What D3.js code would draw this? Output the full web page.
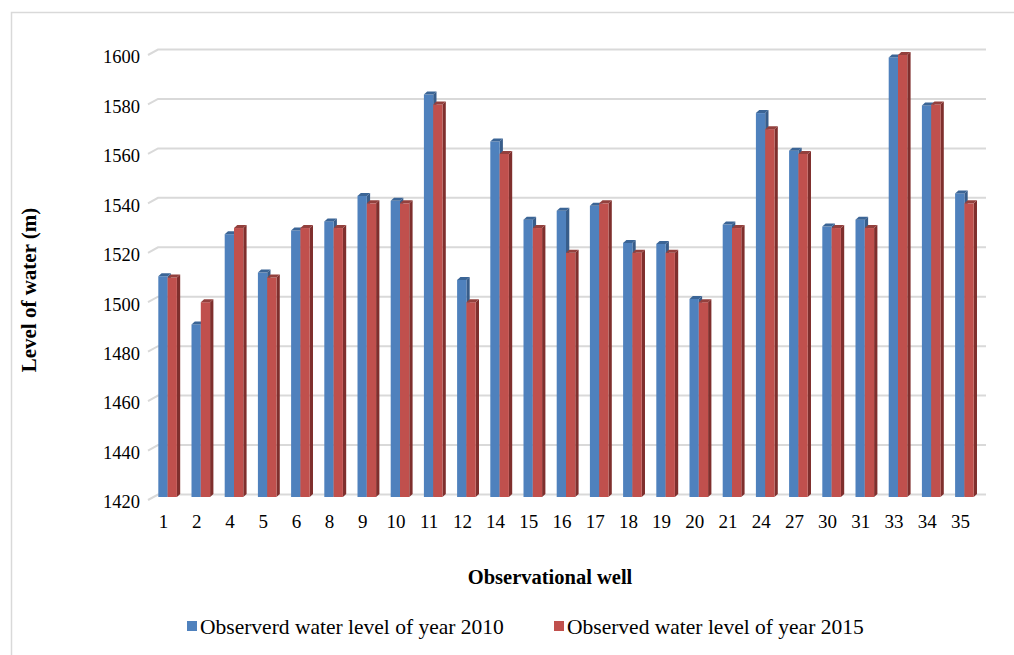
<!DOCTYPE html>
<html>
<head>
<meta charset="utf-8">
<script src="https://cdn.jsdelivr.net/npm/d3@7"></script>
<style>
  html, body { margin: 0; padding: 0; background: #fff; }
  svg { display: block; }
  text { font-family: "Liberation Serif", "Times New Roman", serif; fill: #000; }
</style>
</head>
<body>
<svg id="chart" width="1014" height="655"></svg>
<script>
const wells = ["1","2","4","5","6","8","9","10","11","12","14","15","16","17","18","19","20","21","24","27","30","31","33","34","35"];
const level2010 = [1510.5,1491,1527.5,1512,1529,1532.7,1543,1541,1584,1509,1565,1533.4,1537,1539,1524,1523.6,1501.3,1531.4,1576.5,1561.3,1530.6,1533.4,1599,1579.6,1544];
const level2015 = [1510,1500,1530,1510,1530,1530,1540,1540,1580,1500,1560,1530,1520,1540,1520,1520,1500,1530,1570,1560,1530,1530,1600,1580,1540];
const yTicks = [1420,1440,1460,1480,1500,1520,1540,1560,1580,1600];
const seriesNames = ["Observerd water level of year 2010", "Observed water level of year 2015"];

const colors = {
  front: ["#4f81bd", "#c0504d"],
  side:  ["#385d8a", "#7f2f2d"],
  top:   ["#3b6596", "#93403d"]
};

const svg = d3.select("#chart");
const W = 1014, H = 655;

// outer border
svg.append("rect").attr("x", 11.5).attr("y", 12.5).attr("width", W + 10).attr("height", H + 10)
  .attr("fill", "none").attr("stroke", "#d9d9d9").attr("stroke-width", 1.5);

const y = d3.scaleLinear().domain([1420, 1600]).range([500, 55]);
const x = d3.scaleBand().domain(wells).range([151, 981]).paddingInner(0.44).paddingOuter(0.22);
const xs = d3.scaleBand().domain([0, 1]).range([0, x.bandwidth()]);

const wallDx = 10, wallDy = -5.5, wallRight = 986, wallLeft = 148;

// gridlines with 3D wall offset
const grid = svg.append("g");
grid.selectAll("path").data(yTicks).join("path")
  .attr("d", v => `M${wallLeft},${y(v)} L${wallLeft + wallDx},${y(v) + wallDy} L${wallRight},${y(v) + wallDy}`)
  .attr("fill", "none").attr("stroke", "#d9d9d9").attr("stroke-width", 2);

// bars
const bd = 3.3, bdy = -3;
const bottom = y(1420) - 3;
const series = [level2010, level2015];
series.forEach((vals, si) => {
  const g = svg.append("g");
  const data = wells.map((w, i) => ({ w, v: vals[i] }));
  g.selectAll("path.side").data(data).join("path").attr("class", "side")
    .attr("d", d => {
      const x1 = x(d.w) + xs(si) + xs.bandwidth();
      const t = y(d.v);
      return `M${x1},${t} L${x1 + bd},${t + bdy} L${x1 + bd},${bottom + bdy} L${x1},${bottom} Z`;
    })
    .attr("fill", colors.side[si]);
  g.selectAll("rect").data(data).join("rect")
    .attr("x", d => x(d.w) + xs(si))
    .attr("y", d => y(d.v))
    .attr("width", xs.bandwidth())
    .attr("height", d => bottom - y(d.v))
    .attr("fill", colors.front[si]);
  g.selectAll("path.top").data(data).join("path").attr("class", "top")
    .attr("d", d => {
      const x0 = x(d.w) + xs(si), x1 = x0 + xs.bandwidth();
      const t = y(d.v);
      return `M${x0},${t} L${x0 + bd},${t + bdy} L${x1 + bd},${t + bdy} L${x1},${t} Z`;
    })
    .attr("fill", colors.top[si]);
});

// y axis labels
const yAxis = svg.append("g").attr("transform", `translate(${wallLeft},0)`)
  .call(d3.axisLeft(y).tickValues(yTicks).tickSize(0).tickPadding(8).tickFormat(d3.format("d")));
yAxis.select(".domain").remove();
yAxis.selectAll("text").attr("font-size", 18.5).attr("font-family", "Liberation Serif").attr("dy", "0.42em").attr("fill", "#000");

// x axis labels
const xLabel = x.copy().range([147, 977]);
const xAxis = svg.append("g").attr("transform", `translate(0,${y(1420) + 14})`)
  .call(d3.axisBottom(xLabel).tickSize(0).tickPadding(0));
xAxis.select(".domain").remove();
xAxis.selectAll("text").attr("font-size", 19).attr("font-family", "Liberation Serif").attr("dy", "0.71em").attr("fill", "#000");

// axis titles
svg.append("text").attr("x", 550).attr("y", 584).attr("text-anchor", "middle")
  .attr("font-size", 20.5).attr("font-weight", "bold").text("Observational well");
svg.append("text").attr("transform", "translate(36,290) rotate(-90)").attr("text-anchor", "middle")
  .attr("font-size", 21).attr("font-weight", "bold").text("Level of water (m)");

// legend
const legendX = [187, 554];
const lg = svg.append("g");
seriesNames.forEach((name, i) => {
  lg.append("rect").attr("x", legendX[i]).attr("y", 621).attr("width", 10).attr("height", 10).attr("fill", colors.front[i]);
  lg.append("text").attr("x", legendX[i] + 13).attr("y", 634).attr("font-size", 21.5).text(name);
});
</script>
</body>
</html>
